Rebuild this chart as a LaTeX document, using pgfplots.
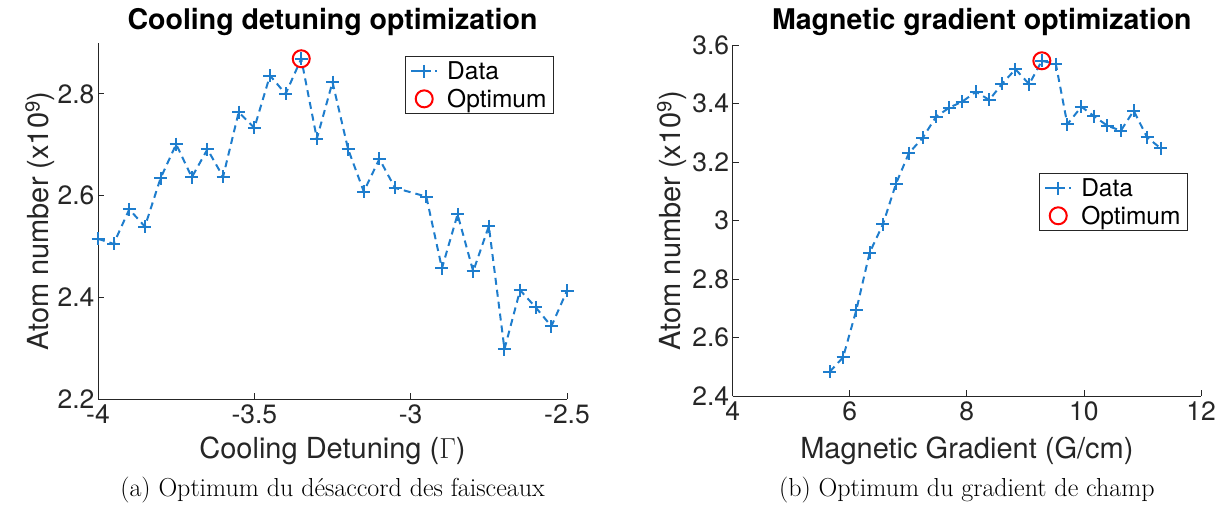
\documentclass[border=0pt]{standalone}
\usepackage{fontspec}
\usepackage{pgfplots}
\pgfplotsset{compat=1.18}
\newfontfamily\helv{TeX Gyre Heros}
\definecolor{mblue}{RGB}{30,125,205}
\definecolor{axgray}{RGB}{38,38,38}
\newcommand\tickfont{\helv\fontsize{26.5}{30}\selectfont}
\newcommand\labfont{\helv\fontsize{29}{33}\selectfont}
\newcommand\titfont{\helv\bfseries\fontsize{28.5}{33}\selectfont}
\newcommand\legfont{\helv\fontsize{24.5}{28}\selectfont}
\newcommand\capfont{\rmfamily\fontsize{26}{30}\selectfont}

\pgfplotstableread{
x y
-4.00 2.515
-3.95 2.505
-3.90 2.573
-3.85 2.539
-3.80 2.634
-3.75 2.701
-3.70 2.636
-3.65 2.691
-3.60 2.637
-3.55 2.764
-3.50 2.733
-3.45 2.836
-3.40 2.800
-3.35 2.869
-3.30 2.712
-3.25 2.823
-3.20 2.691
-3.15 2.608
-3.10 2.672
-3.05 2.615
-2.95 2.598
-2.90 2.457
-2.85 2.563
-2.80 2.451
-2.75 2.540
-2.70 2.298
-2.65 2.414
-2.60 2.380
-2.55 2.343
-2.50 2.413
}\detuning

\pgfplotstableread{
x y
5.658 2.483
5.885 2.532
6.112 2.694
6.339 2.890
6.566 2.987
6.790 3.126
7.009 3.230
7.247 3.283
7.475 3.355
7.702 3.386
7.918 3.406
8.157 3.440
8.383 3.412
8.600 3.467
8.830 3.517
9.065 3.466
9.281 3.546
9.520 3.535
9.717 3.329
9.956 3.389
10.17 3.357
10.40 3.324
10.63 3.307
10.85 3.375
11.08 3.284
11.31 3.247
}\gradient

\pgfplotsset{
  myax/.style={
    scale only axis,
    anchor=south west,
    axis x line*=bottom,
    axis y line*=left,
    axis line style={axgray, line width=0.8pt, -},
    tick style={axgray, line width=0.8pt},
    major tick length=6pt,
    tick align=inside,
    ticklabel style={font=\tickfont, text=axgray},
    x tick label style={yshift=-2pt},
    /pgf/number format/assume math mode=true,
    legend cell align=left,
    legend style={font=\legfont, draw=axgray, line width=0.8pt, anchor=north east,
      inner xsep=5pt, inner ysep=3pt, row sep=4pt,
      /tikz/every odd column/.append style={column sep=7pt}},
  },
  dataplot/.style={
    mblue, line width=2pt, dash pattern=on 7pt off 5pt,
    mark=+, mark size=6.5pt, mark options={solid, line width=2pt},
    legend image code/.code={\draw[mark repeat=2,mark phase=2,##1] plot coordinates {(0pt,0pt) (13pt,0pt) (26pt,0pt)};},
  },
  optplot/.style={
    only marks, red, mark=o, mark size=8.5pt, mark options={solid, line width=2pt},
    legend image code/.code={\draw[mark repeat=2,mark phase=2,##1] plot coordinates {(0pt,0pt) (13pt,0pt) (26pt,0pt)};},
  },
}

\begin{document}
\begin{tikzpicture}[x=1pt,y=1pt]
\useasboundingbox (0,0) rectangle (1222,506);

\begin{axis}[myax, name=L,
  at={(98pt,107pt)}, width=469pt, height=356pt,
  xmin=-4, xmax=-2.5, ymin=2.2, ymax=2.9,
  xtick={-4,-3.5,-3,-2.5}, ytick={2.2,2.4,2.6,2.8},
  legend style={at={(0.972,0.963)}},
]
\addplot[dataplot] table[x=x,y=y] {\detuning};
\addlegendentry{Data}
\addplot[optplot] coordinates {(-3.35,2.869)};
\addlegendentry{Optimum}
\end{axis}

\begin{axis}[myax, name=R,
  at={(732.7pt,110pt)}, width=468.3pt, height=351pt,
  xmin=4, xmax=12, ymin=2.4, ymax=3.6,
  xtick={4,6,8,10,12}, ytick={2.4,2.6,2.8,3,3.2,3.4,3.6},
  legend style={at={(0.972,0.635)}},
]
\addplot[dataplot] table[x=x,y=y] {\gradient};
\addlegendentry{Data}
\addplot[optplot] coordinates {(9.281,3.546)};
\addlegendentry{Optimum}
\end{axis}

% titles
\node[font=\titfont, anchor=center] at ([yshift=21pt]L.north) {Cooling detuning optimization};
\node[font=\titfont, anchor=center] at ([xshift=15pt,yshift=23pt]R.north) {Magnetic gradient optimization};
% y labels
\node[font=\labfont, text=axgray, rotate=90, anchor=center] at ([xshift=-58pt]L.west) {Atom number (x10\textsuperscript{9})};
\node[font=\labfont, text=axgray, rotate=90, anchor=center] at ([xshift=-61pt]R.west) {Atom number (x10\textsuperscript{9})};
% x labels
\node[font=\labfont, text=axgray, anchor=center] at ([yshift=-52pt]L.south) {Cooling Detuning ({\rmfamily Γ})};
\node[font=\labfont, text=axgray, anchor=center] at ([yshift=-55pt]R.south) {Magnetic Gradient (G/cm)};
% sub captions
\node[font=\capfont, anchor=center] at ([yshift=-91pt]L.south) {(a) Optimum du désaccord des faisceaux};
\node[font=\capfont, anchor=center] at ([yshift=-94pt]R.south) {(b) Optimum du gradient de champ};
\end{tikzpicture}
\end{document}
